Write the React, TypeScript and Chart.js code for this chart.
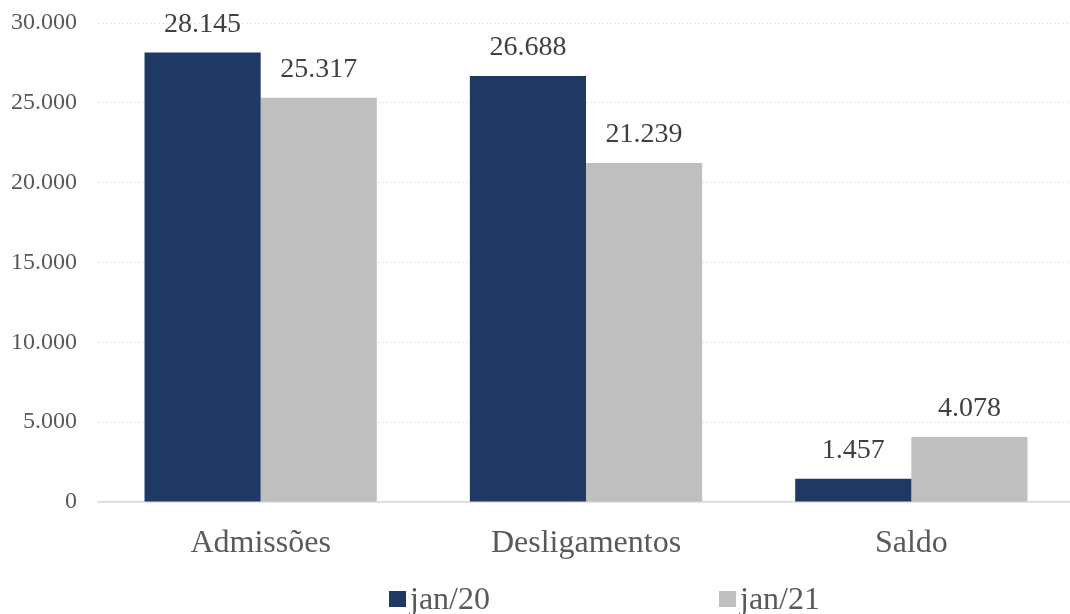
import React, { useEffect, useRef } from "react";
import { Chart, registerables } from "chart.js";

Chart.register(...registerables);

const categories = ["Admissões", "Desligamentos", "Saldo"];
const seriesLabels = ["jan/20", "jan/21"];
const jan20 = [28145, 26688, 1457];
const jan21 = [25317, 21239, 4078];
const yTicks = [0, 5000, 10000, 15000, 20000, 25000, 30000];
const colors = ["#1F3864", "#BFBFBF"];

const FONT = "'Liberation Serif', 'Times New Roman', serif";

function fmt(v: number): string {
  const s = Math.round(v).toString();
  return s.replace(/\B(?=(\d{3})+(?!\d))/g, ".");
}

const dataLabelPlugin = {
  id: "dataLabels",
  afterDatasetsDraw(chart: any) {
    const ctx = chart.ctx;
    ctx.save();
    ctx.font = `28px ${FONT}`;
    ctx.fillStyle = "#404040";
    ctx.textAlign = "center";
    ctx.textBaseline = "middle";
    chart.data.datasets.forEach((ds: any, di: number) => {
      const meta = chart.getDatasetMeta(di);
      meta.data.forEach((bar: any, i: number) => {
        ctx.fillText(fmt(ds.data[i]), bar.x, bar.y - 28);
      });
    });
    ctx.restore();
  },
};

const customLegendPlugin = {
  id: "customLegend",
  afterDraw(chart: any) {
    const ctx = chart.ctx;
    ctx.save();
    ctx.font = `32px ${FONT}`;
    ctx.textBaseline = "alphabetic";
    ctx.textAlign = "left";
    const xs = [389, 719];
    chart.data.datasets.forEach((ds: any, di: number) => {
      const x = xs[di];
      ctx.fillStyle = ds.backgroundColor;
      ctx.fillRect(x, 591, 17, 16);
      ctx.fillStyle = "#595959";
      ctx.fillText(ds.label, x + 21, 609);
    });
    ctx.restore();
  },
};

export default function App() {
  const ref = useRef<HTMLCanvasElement | null>(null);
  useEffect(() => {
    document.body.style.margin = "0";
    const chart = new Chart(ref.current as HTMLCanvasElement, {
      type: "bar",
      data: {
        labels: categories,
        datasets: [
          { label: seriesLabels[0], data: jan20, backgroundColor: colors[0] },
          { label: seriesLabels[1], data: jan21, backgroundColor: colors[1] },
        ],
      },
      options: {
        animation: false,
        responsive: false,
        maintainAspectRatio: false,
        layout: { padding: { top: 23, bottom: 52, left: 0, right: 0 } },
        datasets: {
          bar: { categoryPercentage: 0.714, barPercentage: 1 },
        },
        plugins: {
          legend: { display: false },
          tooltip: { enabled: false },
        },
        scales: {
          x: {
            grid: { display: false },
            border: { display: true, color: "#D9D9D9", width: 1.5 },
            ticks: {
              color: "#595959",
              font: { family: FONT, size: 32 },
              padding: 14,
            },
            afterFit(scale: any) {
              scale.height = 60;
              scale.paddingLeft = 0;
              scale.paddingRight = 0;
            },
          },
          y: {
            min: 0,
            max: 30000,
            afterBuildTicks(scale: any) {
              scale.ticks = yTicks.map((v) => ({ value: v }));
            },
            grid: {
              color: "#E6E6E6",
              lineWidth: 1,
              drawTicks: false,
            },
            border: { display: false, dash: [2, 2] },
            ticks: {
              color: "#595959",
              font: { family: FONT, size: 24 },
              padding: 21,
              callback: (v: any) => fmt(Number(v)),
            },
            afterFit(scale: any) {
              scale.width = 98;
              scale.paddingTop = 0;
              scale.paddingBottom = 0;
            },
          },
        },
      } as any,
      plugins: [dataLabelPlugin, customLegendPlugin],
    });
    return () => chart.destroy();
  }, []);
  return (
    <div style={{ width: 1070, height: 614, overflow: "hidden" }}>
      <canvas ref={ref} width={1074} height={614} style={{ display: "block" }} />
    </div>
  );
}
